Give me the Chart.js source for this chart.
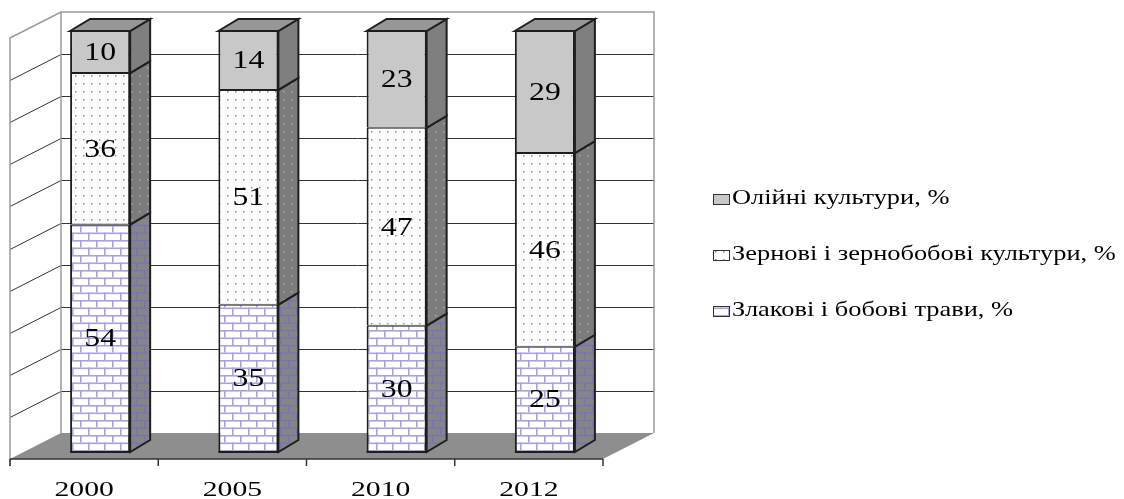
<!DOCTYPE html>
<html>
<head>
<meta charset="utf-8">
<script src="https://cdn.jsdelivr.net/npm/chart.js@4.4.1/dist/chart.umd.min.js"></script>
<style>
  html, body { margin: 0; padding: 0; background: #fff; }
  #wrap { width: 1124px; height: 499px; position: relative; }
</style>
</head>
<body>
<div id="wrap"><canvas id="chart"></canvas></div>
<script>
// ---- data ----
const years = ['2000', '2005', '2010', '2012'];
const grasses = [54, 35, 30, 25];   // Злакові і бобові трави
const grain = [36, 51, 47, 46];     // Зернові і зернобобові
const oil = [10, 14, 23, 29];       // Олійні культури
const seriesNames = ['Злакові і бобові трави, %', 'Зернові і зернобобові культури, %', 'Олійні культури, %'];

// ---- 3d look ----
const BACK = { dx: 35, dy: -19 };   // back wall relative to bar front plane
const FRONT = { dx: -16, dy: 7 };   // front edge of the floor
const DEPTH = { dx: 20, dy: -12 };  // depth of one bar
const EDGE = '#1e1e1e';
const SERIF = '"Liberation Serif", "Times New Roman", serif';

function makeTile(w, h, draw) {
    const c = document.createElement('canvas');
    c.width = w; c.height = h;
    draw(c.getContext('2d'));
    return document.getElementById('chart').getContext('2d').createPattern(c, 'repeat');
}

function brickTile(base, mortar, t) {
    return makeTile(16, 15, g => {
        g.fillStyle = base; g.fillRect(0, 0, 16, 15);
        g.fillStyle = mortar;
        g.fillRect(0, 0, 16, t);
        g.fillRect(0, 7.5, 16, t);
        g.fillRect(0, 0, t, 7.5);
        g.fillRect(8, 7.5, t, 7.5);
    });
}

function dotTile(base, dot) {
    return makeTile(8, 8, g => {
        g.fillStyle = base; g.fillRect(0, 0, 8, 8);
        g.fillStyle = dot; g.fillRect(3, 3, 1.5, 1.5);
    });
}

const fills = [
    { front: brickTile('#ffffff', '#a4a4e4', 1.6), side: brickTile('#858585', '#7272c2', 1.2) },
    { front: dotTile('#ffffff', '#8e8e8e'), side: dotTile('#7c7c7c', '#a9a9a9') },
    { front: '#c8c8c8', side: '#7f7f7f', top: '#979797' }
];

function stretchText(ctx, text, x, y, size, sx, align) {
    ctx.save();
    ctx.translate(x, y);
    ctx.scale(sx, 1);
    ctx.font = size + 'px ' + SERIF;
    ctx.fillStyle = '#000';
    ctx.textAlign = align;
    ctx.textBaseline = 'middle';
    ctx.fillText(text, 0, 0);
    ctx.restore();
}

function poly(ctx, pts, fill, stroke, lw) {
    ctx.beginPath();
    ctx.moveTo(pts[0][0], pts[0][1]);
    for (let i = 1; i < pts.length; i++) ctx.lineTo(pts[i][0], pts[i][1]);
    ctx.closePath();
    if (fill) { ctx.fillStyle = fill; ctx.fill(); }
    if (stroke) { ctx.strokeStyle = stroke; ctx.lineWidth = lw || 1; ctx.stroke(); }
}

// walls, floor, gridlines - behind the bars
const wallsPlugin = {
    id: 'walls',
    beforeDatasetsDraw(chart) {
        const ctx = chart.ctx;
        const { left, right, top, bottom } = chart.chartArea;
        const y = chart.scales.y;
        ctx.save();

        // floor
        poly(ctx, [
            [left + BACK.dx, bottom + BACK.dy], [right + BACK.dx, bottom + BACK.dy],
            [right + FRONT.dx, bottom + FRONT.dy], [left + FRONT.dx, bottom + FRONT.dy]
        ], '#8e8e8e');

        // gridlines on back and side walls
        const ticks = (y.ticks && y.ticks.length) ? y.ticks.map(t => t.value) : [];
        ticks.forEach(v => {
            if (v <= 0 || v >= 100) return;
            const py = Math.round(y.getPixelForValue(v) + BACK.dy) + 0.5;
            ctx.strokeStyle = '#333';
            ctx.lineWidth = 1;
            ctx.beginPath();
            ctx.moveTo(left + FRONT.dx, py + (FRONT.dy - BACK.dy));
            ctx.lineTo(left + BACK.dx, py);
            ctx.lineTo(right + BACK.dx, py);
            ctx.stroke();
        });

        // wall outlines
        const ty = y.getPixelForValue(100), by = y.getPixelForValue(0);
        ctx.strokeStyle = '#9a9a9a';
        ctx.lineWidth = 1.5;
        ctx.beginPath();
        ctx.moveTo(left + FRONT.dx, by + FRONT.dy + 7);
        ctx.lineTo(left + FRONT.dx, ty + FRONT.dy);
        ctx.lineTo(left + BACK.dx, ty + BACK.dy);
        ctx.lineTo(right + BACK.dx, ty + BACK.dy);
        ctx.lineTo(right + BACK.dx, by + BACK.dy);
        ctx.moveTo(left + BACK.dx, ty + BACK.dy);
        ctx.lineTo(left + BACK.dx, by + BACK.dy);
        ctx.stroke();

        // front edge of the floor with category ticks
        const x = chart.scales.x;
        ctx.strokeStyle = '#333';
        ctx.lineWidth = 1.5;
        ctx.beginPath();
        ctx.moveTo(left + FRONT.dx, bottom + FRONT.dy);
        ctx.lineTo(right + FRONT.dx, bottom + FRONT.dy);
        for (let i = 0; i <= years.length; i++) {
            const px = x.getPixelForValue(i - 0.5) + FRONT.dx;
            ctx.moveTo(px, bottom + FRONT.dy);
            ctx.lineTo(px, bottom + FRONT.dy + 7);
        }
        ctx.stroke();

        // year labels
        years.forEach((yr, i) => {
            stretchText(ctx, yr, x.getPixelForValue(i) + FRONT.dx, bottom + FRONT.dy + 31, 22, 1.35, 'center');
        });
        ctx.restore();
    }
};

// side and top faces, value labels, legend
const boxPlugin = {
    id: 'box3d',
    afterDatasetsDraw(chart) {
        const ctx = chart.ctx;
        ctx.save();
        const n = chart.data.datasets.length;
        for (let d = 0; d < n; d++) {
            const meta = chart.getDatasetMeta(d);
            meta.data.forEach(bar => {
                const r = bar.x + bar.width / 2, l = bar.x - bar.width / 2;
                const t = Math.min(bar.y, bar.base), b = Math.max(bar.y, bar.base);
                poly(ctx, [[r, t], [r + DEPTH.dx, t + DEPTH.dy], [r + DEPTH.dx, b + DEPTH.dy], [r, b]],
                    fills[d].side, EDGE, 2);
                if (d === n - 1) {
                    poly(ctx, [[l, t], [l + DEPTH.dx, t + DEPTH.dy], [r + DEPTH.dx, t + DEPTH.dy], [r, t]],
                        fills[d].top, EDGE, 2);
                }
                if (d === 0) {
                    ctx.strokeStyle = EDGE; ctx.lineWidth = 2;
                    ctx.beginPath(); ctx.moveTo(l, b); ctx.lineTo(r, b); ctx.stroke();
                }
            });
        }
        // value labels
        for (let d = 0; d < n; d++) {
            const meta = chart.getDatasetMeta(d);
            const vals = chart.data.datasets[d].data;
            meta.data.forEach((bar, i) => {
                stretchText(ctx, String(vals[i]), bar.x, (bar.y + bar.base) / 2 + 1, 26, 1.22, 'center');
            });
        }
        // legend (top entry first, like the stack)
        const rows = [198, 254, 310];
        for (let k = 0; k < n; k++) {
            const d = n - 1 - k;
            const cy = rows[k];
            ctx.fillStyle = fills[d].front;
            ctx.fillRect(713, cy - 4, 17, 11);
            ctx.strokeStyle = '#333';
            ctx.lineWidth = 1;
            ctx.strokeRect(713.5, cy - 3.5, 16, 10);
            stretchText(ctx, seriesNames[d], 732, cy, 22, 1.2, 'left');
        }
        ctx.restore();
    }
};

new Chart(document.getElementById('chart'), {
    type: 'bar',
    data: {
        labels: years,
        datasets: [
            { label: seriesNames[0], data: grasses, backgroundColor: fills[0].front },
            { label: seriesNames[1], data: grain, backgroundColor: fills[1].front },
            { label: seriesNames[2], data: oil, backgroundColor: fills[2].front }
        ]
    },
    options: {
        responsive: true, maintainAspectRatio: false, animation: false,
        layout: { padding: { left: 26, right: 505, top: 31, bottom: 47 } },
        datasets: { bar: { borderColor: EDGE, borderWidth: { left: 2, right: 2, top: 1, bottom: 1 }, borderSkipped: false, barPercentage: 0.405, categoryPercentage: 1 } },
        plugins: { legend: { display: false }, tooltip: { enabled: false } },
        scales: {
            x: { stacked: true, display: false },
            y: { stacked: true, display: false, min: 0, max: 100, ticks: { stepSize: 10 } }
        }
    },
    plugins: [wallsPlugin, boxPlugin]
});
</script>
</body>
</html>
